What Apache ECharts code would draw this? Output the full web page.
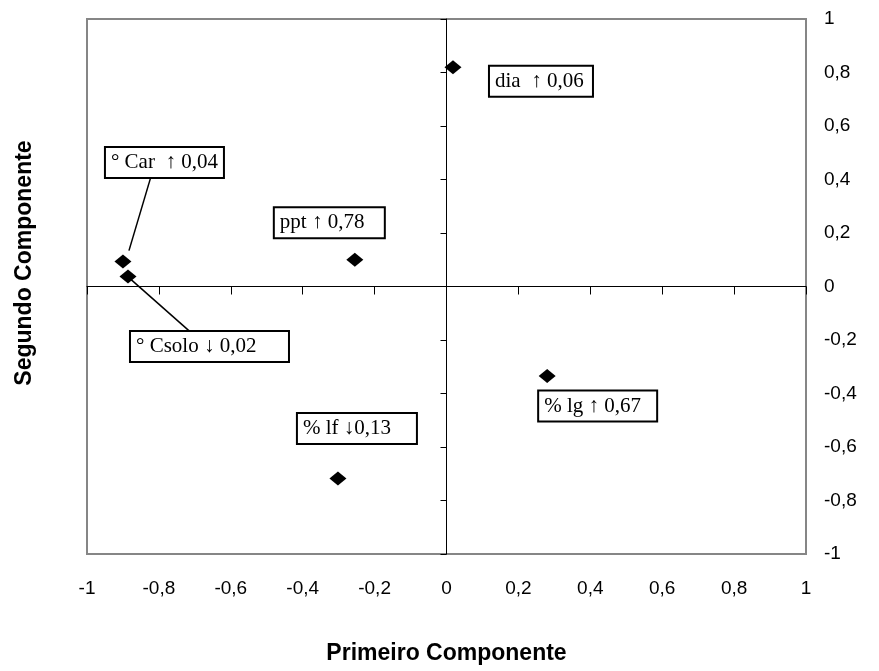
<!DOCTYPE html>
<html>
<head>
<meta charset="utf-8">
<script src="https://cdn.jsdelivr.net/npm/echarts@6/dist/echarts.min.js"></script>
<style>
html,body{margin:0;padding:0;background:#fff;}
#chart{width:879px;height:671px;}
</style>
</head>
<body>
<div id="chart"></div>
<script>
// variables and their loadings on the first two components
let names = ['dia', '° Car', '° Csolo', 'ppt', '% lg', '% lf'];
let labelTexts = ['dia  ↑ 0,06', '° Car  ↑ 0,04', '° Csolo ↓ 0,02', 'ppt ↑ 0,78', '% lg ↑ 0,67', '% lf ↓0,13'];
let comp1 = [0.018, -0.90, -0.886, -0.255, 0.28, -0.302];
let comp2 = [0.82, 0.093, 0.037, 0.10, -0.335, -0.718];
let ticks = [-1, -0.8, -0.6, -0.4, -0.2, 0, 0.2, 0.4, 0.6, 0.8, 1];

// label boxes: left edge and vertical middle relative to the point (px), and box width
let labelShift = [[37, 14], [-17, -99], [3, 70], [-80, -37], [-8, 30], [-40, -50]];
let labelBoxWidth = [102, 117, 157, 109, 117, 118];
// leader lines: point index, start and end offsets from the point (px)
let leaders = [[1, 28, -85, 6, -11], [2, 62, 55, 2, 2]];

let sansFont = "'Liberation Sans', Arial, sans-serif";
let serifFont = "'Liberation Serif', 'Times New Roman', serif";
let labelPad = 5;

let fmt = function (v) {
    return String(Math.round(v * 10) / 10).replace('.', ',');
};

let myChart = echarts.init(document.getElementById('chart'));

let points = [];
for (let i = 0; i < names.length; i++) {
    points.push({
        name: names[i],
        value: [comp1[i], comp2[i]],
        label: {formatter: labelTexts[i], width: labelBoxWidth[i] - 2 * labelPad}
    });
}

let tickMin = ticks[0], tickMax = ticks[ticks.length - 1];

let option = {
    animation: false,
    backgroundColor: '#fff',
    grid: {
        left: 87, right: 73, top: 19, bottom: 117,
        show: true,
        borderColor: '#868686',
        borderWidth: 2,
        outerBoundsMode: 'none'
    },
    graphic: [{
        type: 'text',
        x: 25, y: 263,
        rotation: Math.PI / 2,
        style: {
            text: 'Segundo Componente',
            font: 'bold 23px ' + sansFont,
            fill: '#000',
            align: 'center',
            verticalAlign: 'middle'
        }
    }],
    xAxis: [
        {
            type: 'value', min: tickMin, max: tickMax, interval: 0.2,
            axisLine: {onZero: true, onZeroAxisIndex: 0, lineStyle: {color: '#000', width: 1}},
            axisTick: {show: true, length: 8, lineStyle: {color: '#000'}},
            axisLabel: {show: false},
            splitLine: {show: false}
        },
        {
            type: 'value', min: tickMin, max: tickMax, interval: 0.2, position: 'bottom',
            axisLine: {show: false, onZero: false},
            axisTick: {show: false},
            splitLine: {show: false},
            axisLabel: {margin: 25, fontSize: 19, color: '#000', fontFamily: sansFont, formatter: fmt},
            name: 'Primeiro Componente',
            nameLocation: 'middle',
            nameGap: 88,
            nameTextStyle: {fontSize: 23, fontWeight: 'bold', color: '#000', fontFamily: sansFont}
        }
    ],
    yAxis: [
        {
            type: 'value', min: tickMin, max: tickMax, interval: 0.2,
            axisLine: {onZero: true, onZeroAxisIndex: 0, lineStyle: {color: '#000', width: 1}},
            axisTick: {show: true, length: 6, lineStyle: {color: '#000'}},
            axisLabel: {show: false},
            splitLine: {show: false}
        },
        {
            type: 'value', min: tickMin, max: tickMax, interval: 0.2, position: 'right',
            axisLine: {show: false, onZero: false},
            axisTick: {show: false},
            splitLine: {show: false},
            axisLabel: {margin: 18, fontSize: 19, color: '#000', fontFamily: sansFont, formatter: fmt}
        }
    ],
    series: [
        {
            type: 'custom',
            xAxisIndex: 0,
            yAxisIndex: 0,
            silent: true,
            z: 1,
            data: leaders,
            renderItem: function (params, api) {
                let k = api.value(0);
                let p = api.coord([comp1[k], comp2[k]]);
                return {
                    type: 'line',
                    shape: {
                        x1: p[0] + api.value(1), y1: p[1] + api.value(2),
                        x2: p[0] + api.value(3), y2: p[1] + api.value(4)
                    },
                    style: {stroke: '#000', lineWidth: 1.5}
                };
            }
        },
        {
            type: 'scatter',
            xAxisIndex: 0,
            yAxisIndex: 0,
            z: 3,
            symbol: 'diamond',
            symbolSize: [17, 14],
            itemStyle: {color: '#000', opacity: 1},
            label: {
                show: true,
                position: 'inside',
                align: 'left',
                verticalAlign: 'middle',
                color: '#000',
                fontFamily: serifFont,
                fontSize: 21,
                lineHeight: 21,
                backgroundColor: '#fff',
                borderColor: '#000',
                borderWidth: 2,
                padding: [4, labelPad, 4, labelPad]
            },
            labelLayout: function (params) {
                let s = labelShift[params.dataIndex];
                return {dx: s[0], dy: s[1]};
            },
            data: points
        }
    ]
};
myChart.setOption(option);
</script>
</body>
</html>
